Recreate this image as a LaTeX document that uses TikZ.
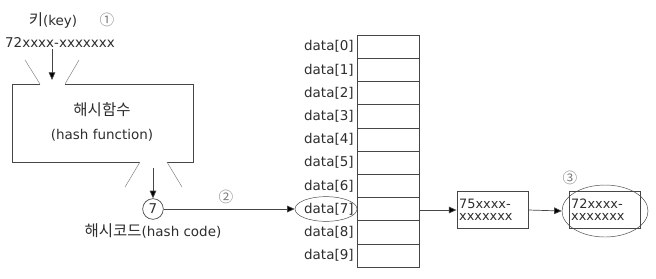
\documentclass[tikz,border=0pt]{standalone}
\usepackage{fontspec}
\setmainfont{DejaVu Sans}
\newfontfamily\krfont[Scale=1.15]{Noto Sans CJK KR}
\newfontfamily\markfont{Noto Sans CJK KR}
\usetikzlibrary{arrows.meta,positioning,shapes.geometric}
\definecolor{hsLine}{RGB}{ 70, 70, 70}
\definecolor{hsText}{RGB}{ 45, 45, 45}
\definecolor{hsMark}{RGB}{125,125,125}

\begin{document}
\begin{tikzpicture}[x=0.3mm,y=-0.3mm,
  every node/.style={font=\fontsize{11.5}{13}\selectfont,text=hsText},
  slot/.style={draw=hsLine,minimum width=18.6mm,minimum height=6.96mm,inner sep=0pt},
  entry/.style={draw=hsLine,thick,minimum width=21.3mm,minimum height=11.1mm,
                text width=20mm,align=left,inner sep=0.8pt,
                font=\fontsize{11}{10.5}\selectfont},
  ring/.style={draw=hsLine,ellipse,inner sep=0pt},
  stepmark/.style={text=hsMark,font=\markfont\fontsize{12.5}{13}\selectfont},
  link/.style={-{Triangle[length=2.3mm,width=2mm,fill=black]},hsLine,semithick}
]
\useasboundingbox (0,0) rectangle (656,278);
% key input
\node (keyname) at (53,20) {{\krfont 키}(key)};
\node[stepmark] (m1) at (107,20) {①};
\node (keyval) at (60,42) {72xxxx-xxxxxxx};
% hash function box (open at top and bottom)
\node[align=center,font=\fontsize{11.5}{20}\selectfont] (hashfn) at (102,122)
  {{\krfont 해시함수}\\(hash function)};
\draw[hsLine,semithick] (40,84) -- (12,84) -- (12,162) -- (140,162);
\draw[hsLine,semithick] (65,84) -- (193,84) -- (193,162) -- (167,162);
\draw[hsLine!70] (40,84) -- (25,60) (65,84) -- (79,60);
\draw[hsLine!70] (140,162) -- (125,187) (167,162) -- (182,187);
\coordinate (keydrop) at (52,49);
\coordinate (inlet) at (52,80);
\coordinate (outlet) at (153,168);
\draw[link] (keydrop) -- (inlet);
% hash code
\node[draw=hsLine,semithick,circle,minimum size=6.2mm,inner sep=0pt] (hcode) at (153,209) {7};
\node (hcodename) at (153,231) {{\krfont 해시코드}(hash code)};
\draw[link] (outlet) -- (hcode.north);
\node[stepmark] (m2) at (226,197) {②};
% table
\foreach \i in {0,...,9}{
  \node[slot] (cell\i) at (388,{35+23.2*(\i+0.5)}) {};
  \node[anchor=east,inner sep=1pt] (lab\i) at (355,{35+23.2*(\i+0.5)}) {data[\i]};
}
\node[ring,minimum width=18.6mm,minimum height=7.4mm] (ring7) at (326,209) {};
\draw[link] (hcode) -- (ring7.west);
% chain
\node[entry] (rec1) at (492.5,210) {75xxxx-\\xxxxxxx};
\node[entry] (rec2) at (604.5,210) {72xxxx-\\xxxxxxx};
\node[ring,minimum width=25.8mm,minimum height=15.6mm] (ring3) at (605,211) {};
\node[stepmark] (m3) at (570,178) {③};
\draw[link] (cell7.east |- rec1.west) -- (rec1.west);
\draw[link] (rec1.east) -- (ring3.west);
\end{tikzpicture}
\end{document}
